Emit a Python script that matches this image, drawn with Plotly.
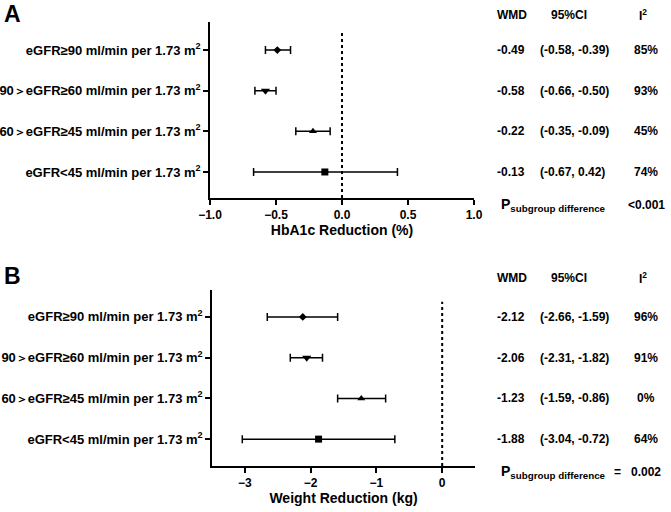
import plotly.graph_objects as go

# ======================================
# DATA
# ======================================

GT = '<span style="font-size:12px">＞</span>'
subgroups = [
    "eGFR≥90 ml/min per 1.73 m<sup>2</sup>",
    "90" + GT + "eGFR≥60 ml/min per 1.73 m<sup>2</sup>",
    "60" + GT + "eGFR≥45 ml/min per 1.73 m<sup>2</sup>",
    "eGFR<45 ml/min per 1.73 m<sup>2</sup>",
]
row_pos = [4, 3, 2, 1]
symbols = ["diamond", "triangle-down", "triangle-up", "square"]
sizes = [6, 8, 7, 7]

hba1c_wmd = [-0.49, -0.58, -0.22, -0.13]
hba1c_low = [-0.58, -0.66, -0.35, -0.67]
hba1c_high = [-0.39, -0.50, -0.09, 0.42]
hba1c_i2 = ["85%", "93%", "45%", "74%"]
hba1c_p = "<0.001"

weight_wmd = [-2.12, -2.06, -1.23, -1.88]
weight_low = [-2.66, -2.31, -1.59, -3.04]
weight_high = [-1.59, -1.82, -0.86, -0.72]
weight_i2 = ["96%", "91%", "0%", "64%"]
weight_p = "0.002"

FONT = "Liberation Sans, Arial, sans-serif"

fig = go.Figure()


def add_panel(wmd, low, high, xa, ya):
    for i in range(len(wmd)):
        fig.add_trace(go.Scatter(
            x=[wmd[i]], y=[row_pos[i]],
            mode="markers",
            marker=dict(symbol=symbols[i], size=sizes[i], color="black"),
            error_x=dict(
                type="data", symmetric=False,
                array=[high[i] - wmd[i]],
                arrayminus=[wmd[i] - low[i]],
                color="black", thickness=1.5, width=4,
            ),
            xaxis=xa, yaxis=ya, showlegend=False,
        ))


add_panel(hba1c_wmd, hba1c_low, hba1c_high, "x", "y")
add_panel(weight_wmd, weight_low, weight_high, "x2", "y2")

# dotted no-effect lines
fig.add_shape(type="line", xref="x", yref="y", x0=0, x1=0, y0=0.36, y1=4.47,
              line=dict(color="black", width=2, dash="dot"))
fig.add_shape(type="line", xref="x2", yref="y2", x0=0, x1=0, y0=0.34, y1=4.37,
              line=dict(color="black", width=2, dash="dot"))

axis_common = dict(
    showline=True, linecolor="black", linewidth=1.6, mirror=False,
    ticks="outside", ticklen=5, tickwidth=1.5, tickcolor="black",
    showgrid=False, zeroline=False, automargin=False,
)
xtick_font = dict(family=FONT, size=12, color="black", weight="bold")
ytick_font = dict(family=FONT, size=13, color="black", weight="bold")
title_font = dict(family=FONT, size=14, color="black", weight="bold")

fig.update_layout(
    width=671, height=512,
    margin=dict(l=0, r=0, t=0, b=0),
    paper_bgcolor="white", plot_bgcolor="white",
    font=dict(family=FONT, color="black"),
    xaxis=dict(domain=[0.313, 0.7064], range=[-1, 1],
               tickvals=[-1, -0.5, 0, 0.5, 1], tickformat=".1f",
               tickfont=xtick_font,
               title=dict(text="HbA1c Reduction (%)", standoff=4, font=title_font),
               anchor="y", **axis_common),
    yaxis=dict(domain=[0.6133, 0.957], range=[0.36, 4.69],
               tickvals=row_pos, ticktext=subgroups, tickfont=ytick_font,
               anchor="x", **axis_common),
    xaxis2=dict(domain=[0.316, 0.708], range=[-3.5, 0.5],
                tickvals=[-3, -2, -1, 0], tickfont=xtick_font,
                title=dict(text="Weight Reduction (kg)", standoff=4, font=title_font),
                anchor="y2", **axis_common),
    yaxis2=dict(domain=[0.0898, 0.4336], range=[0.34, 4.66],
                tickvals=row_pos, ticktext=subgroups, tickfont=ytick_font,
                anchor="x2", **axis_common),
)

# ======================================
# TEXT COLUMNS
# ======================================

col_wmd = 0.7377
col_ci = 0.8018
col_ci_head = 0.848
col_i2 = 0.963
txt = dict(family=FONT, size=12, color="black", weight="bold")


def note(x, y, text, yref="paper", xanchor="center", font=txt):
    fig.add_annotation(x=x, y=y, xref="paper", yref=yref, text=text,
                       xanchor=xanchor, yanchor="middle", showarrow=False, font=font)


def add_table(wmd, low, high, i2, p, yref, head_y, p_y, equals):
    note(col_wmd, head_y, "WMD", xanchor="left")
    note(col_ci_head, head_y, "95%CI")
    note(col_i2 - 0.004, head_y, "I<sup>2</sup>")
    for i in range(len(wmd)):
        note(col_wmd, row_pos[i], f"{wmd[i]:.2f}", yref=yref, xanchor="left")
        note(col_ci, row_pos[i], f"({low[i]:.2f}, {high[i]:.2f})", yref=yref, xanchor="left")
        note(col_i2, row_pos[i], i2[i], yref=yref)
    note(0.7436, p_y, "P<sub>subgroup difference</sub>", xanchor="left",
         font=dict(family=FONT, size=14, weight="bold"))
    if equals:
        note(0.921, p_y, "=")
    note(col_i2, p_y, p)


add_table(hba1c_wmd, hba1c_low, hba1c_high, hba1c_i2, hba1c_p, "y",
          1 - 15 / 512, 1 - 205 / 512, False)
add_table(weight_wmd, weight_low, weight_high, weight_i2, weight_p, "y2",
          1 - 278 / 512, 1 - 472 / 512, True)

# panel letters
letter_font = dict(family=FONT, size=23, weight="bold")
note(0.003, 1 - 14 / 512, "A", xanchor="left", font=letter_font)
note(0.003, 1 - 276 / 512, "B", xanchor="left", font=letter_font)

fig.write_html("out.html", config={"displayModeBar": False},
               post_script="document.body.style.margin='0';")
